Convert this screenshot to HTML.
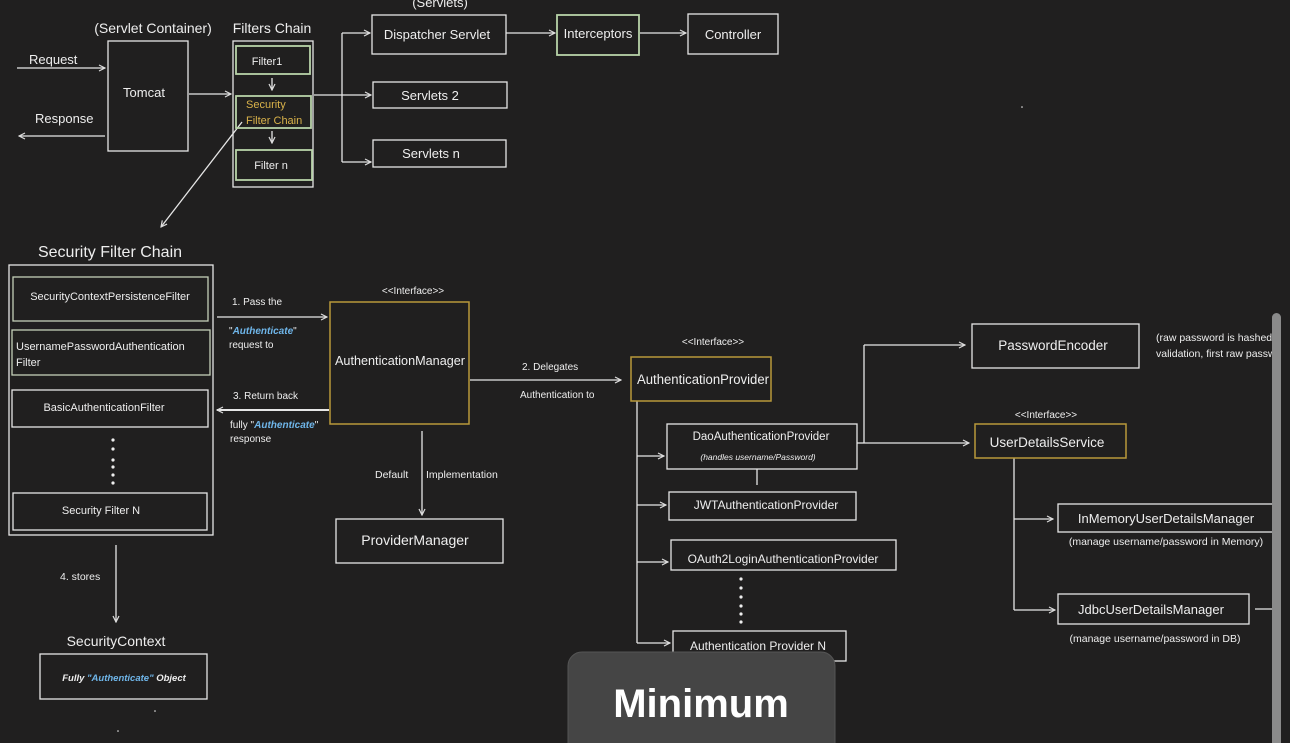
<!DOCTYPE html>
<html><head><meta charset="utf-8"><style>
html,body{margin:0;padding:0;background:#201f1f;overflow:hidden}
svg{display:block}
text{font-family:"Liberation Sans",sans-serif;fill:#eee}
</style></head><body>
<svg width="1290" height="743" viewBox="0 0 1290 743" xmlns="http://www.w3.org/2000/svg">
<defs>
<marker id="a" markerWidth="8" markerHeight="8" refX="7" refY="4" orient="auto" markerUnits="userSpaceOnUse">
<path d="M1,1 L7,4 L1,7" fill="none" stroke="#ddd" stroke-width="1.2"/></marker>
</defs>
<rect width="1290" height="743" fill="#201f1f"/>
<g fill="none" stroke="#e6e6e6" stroke-width="1.3">
<line x1="17" y1="68" x2="105" y2="68" marker-end="url(#a)"/>
<line x1="105" y1="136" x2="19" y2="136" marker-end="url(#a)"/>
<rect x="108" y="41" width="80" height="110"/>
<line x1="189" y1="94" x2="231" y2="94" marker-end="url(#a)"/>
<rect x="233" y="41" width="80" height="146"/>
<line x1="272" y1="78" x2="272" y2="90" marker-end="url(#a)"/>
<line x1="272" y1="131" x2="272" y2="143" marker-end="url(#a)"/>
<line x1="242" y1="122" x2="161" y2="227" marker-end="url(#a)"/>
<line x1="314" y1="95" x2="342" y2="95"/>
<line x1="342" y1="33" x2="342" y2="162"/>
<line x1="342" y1="33" x2="370" y2="33" marker-end="url(#a)"/>
<line x1="342" y1="95" x2="371" y2="95" marker-end="url(#a)"/>
<line x1="342" y1="162" x2="371" y2="162" marker-end="url(#a)"/>
<rect x="372" y="15" width="134" height="39"/>
<rect x="373" y="82" width="134" height="26"/>
<rect x="373" y="140" width="133" height="27"/>
<line x1="506" y1="33" x2="555" y2="33" marker-end="url(#a)"/>
<line x1="640" y1="33" x2="686" y2="33" marker-end="url(#a)"/>
<rect x="688" y="14" width="90" height="40"/>
<rect x="9" y="265" width="204" height="270"/>
<rect x="12" y="390" width="196" height="37"/>
<rect x="13" y="493" width="194" height="37"/>
<line x1="116" y1="545" x2="116" y2="622" marker-end="url(#a)"/>
<rect x="40" y="654" width="167" height="45"/>
<line x1="217" y1="317" x2="327" y2="317" marker-end="url(#a)"/>
<line x1="329" y1="410" x2="217" y2="410" marker-end="url(#a)" stroke-width="2"/>
<line x1="470" y1="380" x2="621" y2="380" marker-end="url(#a)"/>
<line x1="422" y1="431" x2="422" y2="515" marker-end="url(#a)"/>
<rect x="336" y="519" width="167" height="44"/>
<line x1="637" y1="401" x2="637" y2="643"/>
<line x1="637" y1="456" x2="664" y2="456" marker-end="url(#a)"/>
<line x1="637" y1="505" x2="666" y2="505" marker-end="url(#a)"/>
<line x1="637" y1="562" x2="668" y2="562" marker-end="url(#a)"/>
<line x1="637" y1="643" x2="670" y2="643" marker-end="url(#a)"/>
<rect x="667" y="424" width="190" height="45"/>
<line x1="757" y1="469" x2="757" y2="485"/>
<rect x="669" y="492" width="187" height="28"/>
<rect x="671" y="540" width="225" height="30"/>
<rect x="673" y="631" width="173" height="30"/>
<line x1="857" y1="443" x2="864" y2="443"/>
<line x1="864" y1="345" x2="864" y2="443"/>
<line x1="864" y1="345" x2="965" y2="345" marker-end="url(#a)"/>
<line x1="864" y1="443" x2="969" y2="443" marker-end="url(#a)"/>
<rect x="972" y="324" width="167" height="44"/>
<line x1="1014" y1="458" x2="1014" y2="610"/>
<line x1="1014" y1="519" x2="1053" y2="519" marker-end="url(#a)"/>
<line x1="1014" y1="610" x2="1055" y2="610" marker-end="url(#a)"/>
<rect x="1058" y="504" width="218" height="28"/>
<rect x="1058" y="594" width="191" height="30"/>
<line x1="1255" y1="609" x2="1275" y2="609"/>
</g>
<g fill="none" stroke="#b7d3a8" stroke-width="1.8">
<rect x="236" y="46" width="74" height="28"/>
<rect x="236" y="96" width="75" height="32"/>
<rect x="236" y="150" width="76" height="30"/>
<rect x="557" y="15" width="82" height="40"/>
</g>
<g fill="none" stroke="#c3cfb8" stroke-width="1.3">
<rect x="13" y="277" width="195" height="44"/>
<rect x="12" y="330" width="198" height="45"/>
</g>
<g fill="none" stroke="#b8983a" stroke-width="1.5">
<rect x="330" y="302" width="139" height="122"/>
<rect x="631" y="357" width="140" height="44"/>
<rect x="975" y="424" width="151" height="34"/>
</g>
<g fill="#eee">
<circle cx="113" cy="440" r="1.6"/><circle cx="113" cy="449" r="1.6"/><circle cx="113" cy="460" r="1.6"/><circle cx="113" cy="467" r="1.6"/><circle cx="113" cy="475" r="1.6"/><circle cx="113" cy="483" r="1.6"/>
<circle cx="741" cy="579" r="1.6"/><circle cx="741" cy="588" r="1.6"/><circle cx="741" cy="597" r="1.6"/><circle cx="741" cy="606" r="1.6"/><circle cx="741" cy="614" r="1.6"/><circle cx="741" cy="622" r="1.6"/>
<circle cx="1022" cy="107" r="0.8"/><circle cx="155" cy="711" r="0.8"/><circle cx="118" cy="731" r="0.8"/>
</g>
<text x="153" y="33" font-size="14" text-anchor="middle">(Servlet Container)</text>
<text x="440" y="7" font-size="13" text-anchor="middle">(Servlets)</text>
<text x="272" y="33" font-size="14" text-anchor="middle">Filters Chain</text>
<text x="29" y="64" font-size="13">Request</text>
<text x="35" y="123" font-size="13">Response</text>
<text x="144" y="97" font-size="13" text-anchor="middle">Tomcat</text>
<text x="267" y="65" font-size="11" text-anchor="middle">Filter1</text>
<text x="246" y="108" font-size="11" style="fill:#d9b24a">Security</text>
<text x="246" y="124" font-size="11" style="fill:#d9b24a">Filter Chain</text>
<text x="271" y="169" font-size="11" text-anchor="middle">Filter n</text>
<text x="437" y="39" font-size="13" text-anchor="middle">Dispatcher Servlet</text>
<text x="430" y="100" font-size="13" text-anchor="middle">Servlets 2</text>
<text x="431" y="158" font-size="13" text-anchor="middle">Servlets n</text>
<text x="598" y="38" font-size="13" text-anchor="middle">Interceptors</text>
<text x="733" y="39" font-size="13" text-anchor="middle">Controller</text>

<text x="110" y="257" font-size="16" text-anchor="middle">Security Filter Chain</text>
<text x="110" y="300" font-size="11" text-anchor="middle">SecurityContextPersistenceFilter</text>
<text x="16" y="350" font-size="11">UsernamePasswordAuthentication</text>
<text x="16" y="366" font-size="11">Filter</text>
<text x="104" y="411" font-size="11" text-anchor="middle">BasicAuthenticationFilter</text>
<text x="101" y="514" font-size="11" text-anchor="middle">Security Filter N</text>
<text x="60" y="580" font-size="10.5">4.  stores</text>
<text x="116" y="646" font-size="14" text-anchor="middle">SecurityContext</text>
<text x="124" y="681" font-size="9.5" text-anchor="middle" font-weight="bold" font-style="italic">Fully <tspan style="fill:#6fb6ea">"Authenticate"</tspan> Object</text>

<text x="232" y="305" font-size="10">1.  Pass the</text>
<text x="229" y="334" font-size="10">"<tspan style="fill:#6fb6ea" font-weight="bold" font-style="italic">Authenticate</tspan>"</text>
<text x="229" y="348" font-size="10">request to</text>
<text x="233" y="399" font-size="10">3.  Return back</text>
<text x="230" y="428" font-size="10">fully "<tspan style="fill:#6fb6ea" font-weight="bold" font-style="italic">Authenticate</tspan>"</text>
<text x="230" y="442" font-size="10">response</text>
<text x="413" y="294" font-size="10" text-anchor="middle">&lt;&lt;Interface&gt;&gt;</text>
<text x="400" y="365" font-size="13" text-anchor="middle" textLength="130" lengthAdjust="spacingAndGlyphs">AuthenticationManager</text>
<text x="522" y="370" font-size="10">2.  Delegates</text>
<text x="520" y="398" font-size="10">Authentication to</text>
<text x="375" y="478" font-size="10.5">Default</text>
<text x="426" y="478" font-size="10.5">Implementation</text>
<text x="415" y="545" font-size="14" text-anchor="middle">ProviderManager</text>

<text x="713" y="345" font-size="10" text-anchor="middle">&lt;&lt;Interface&gt;&gt;</text>
<text x="703" y="384" font-size="13.5" text-anchor="middle" textLength="132" lengthAdjust="spacingAndGlyphs">AuthenticationProvider</text>
<text x="761" y="440" font-size="11.5" text-anchor="middle">DaoAuthenticationProvider</text>
<text x="758" y="460" font-size="8.5" text-anchor="middle" font-style="italic">(handles username/Password)</text>
<text x="766" y="509" font-size="12" text-anchor="middle">JWTAuthenticationProvider</text>
<text x="783" y="563" font-size="12" text-anchor="middle">OAuth2LoginAuthenticationProvider</text>
<text x="758" y="650" font-size="12" text-anchor="middle">Authentication Provider N</text>
<text x="1053" y="350" font-size="13.5" text-anchor="middle">PasswordEncoder</text>
<text x="1156" y="341" font-size="10.5">(raw password is hashed</text>
<text x="1156" y="357" font-size="10.5">validation, first raw passw</text>
<text x="1046" y="418" font-size="10" text-anchor="middle">&lt;&lt;Interface&gt;&gt;</text>
<text x="1047" y="447" font-size="13.5" text-anchor="middle">UserDetailsService</text>
<text x="1166" y="523" font-size="13" text-anchor="middle">InMemoryUserDetailsManager</text>
<text x="1166" y="545" font-size="10.5" text-anchor="middle">(manage username/password in Memory)</text>
<text x="1151" y="614" font-size="13" text-anchor="middle">JdbcUserDetailsManager</text>
<text x="1155" y="642" font-size="10.5" text-anchor="middle">(manage username/password in DB)</text>

<rect x="1272" y="313" width="9" height="440" rx="4.5" fill="#8a8a8a"/>
<rect x="568" y="652" width="267" height="110" rx="14" fill="#454545" stroke="#555" stroke-width="1"/>
<text x="701" y="717" font-size="40" text-anchor="middle" font-weight="bold" style="fill:#fff">Minimum</text>
</svg>
</body></html>
